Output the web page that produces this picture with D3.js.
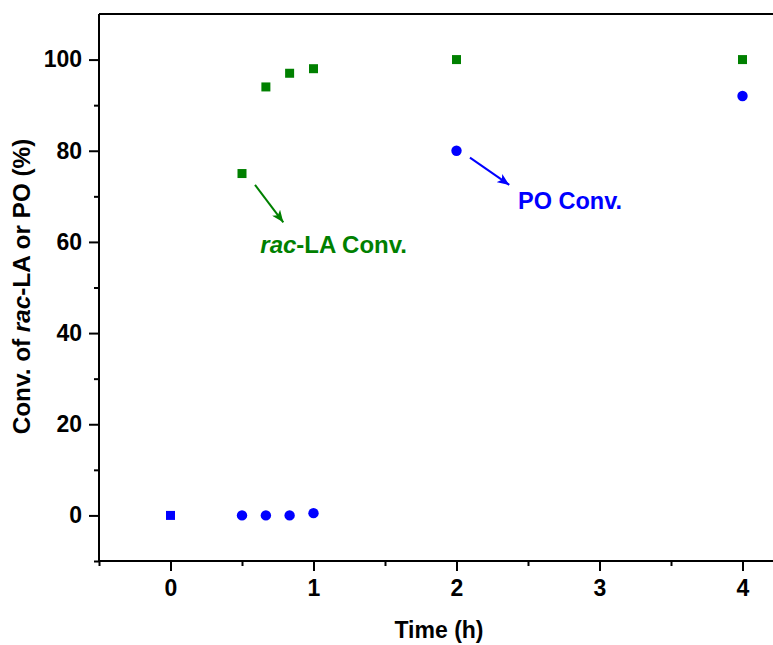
<!DOCTYPE html>
<html>
<head>
<meta charset="utf-8">
<script src="https://cdn.jsdelivr.net/npm/d3@7"></script>
<style>
  html, body { margin: 0; padding: 0; background: #fff; }
  svg { display: block; }
  text { font-family: Arial, "Liberation Sans", sans-serif; font-weight: bold; }
</style>
</head>
<body>
<script>
// Data
const time = [0, 0.5, 0.667, 0.833, 1, 2, 4];
const racLA = [0, 75, 94, 97, 98, 100, 100];
const poConv = [0, 0, 0, 0, 0.5, 80, 92];
const xTicks = [0, 1, 2, 3, 4];
const yTicks = [0, 20, 40, 60, 80, 100];
const xMinorTicks = [-0.5, 0.5, 1.5, 2.5, 3.5];
const yMinorTicks = [-10, 10, 30, 50, 70, 90];
// annotations: [x1, y1, x2, y2] in data units
const greenArrow = [0.591, 72.5, 0.789, 64.3];
const blueArrow = [2.094, 78.5, 2.369, 72.5];

const W = 773, H = 645;
const GREEN = "#008000", BLUE = "#0000ff";

const svg = d3.select("body").append("svg").attr("width", W).attr("height", H);

const x = d3.scaleLinear().domain([-0.5, 4.5]).range([99, 814]);
const y = d3.scaleLinear().domain([-10, 110]).range([561, 14]);

const defs = svg.append("defs");
[["g", GREEN], ["b", BLUE]].forEach(([id, c]) => {
  defs.append("marker").attr("id", "arr-" + id)
    .attr("viewBox", "0 0 12 10").attr("refX", 12).attr("refY", 5)
    .attr("markerWidth", 12).attr("markerHeight", 10)
    .attr("markerUnits", "userSpaceOnUse").attr("orient", "auto")
    .append("path").attr("d", "M0,0 L12,5 L0,10 L3,5 Z").attr("fill", c);
});

// Axes
const xAxis = svg.append("g").attr("transform", `translate(0,${y(-10)})`)
  .call(d3.axisBottom(x).tickValues(xTicks).tickSize(10).tickPadding(9).tickFormat(d3.format("d")));
const xMinor = svg.append("g").attr("transform", `translate(0,${y(-10)})`)
  .call(d3.axisBottom(x).tickValues(xMinorTicks).tickSize(5).tickFormat(""));
const yAxis = svg.append("g").attr("transform", `translate(${x(-0.5)},0)`)
  .call(d3.axisLeft(y).tickValues(yTicks).tickSize(10).tickPadding(7).tickFormat(d3.format("d")));
const yMinor = svg.append("g").attr("transform", `translate(${x(-0.5)},0)`)
  .call(d3.axisLeft(y).tickValues(yMinorTicks).tickSize(5).tickFormat(""));

[xAxis, xMinor, yAxis, yMinor].forEach(g => {
  g.select(".domain").attr("stroke", "#000").attr("stroke-width", 2);
  g.selectAll(".tick line").attr("stroke", "#000").attr("stroke-width", 2);
  g.selectAll(".tick text").attr("fill", "#000").style("font-size", "23px")
    .style("font-family", "Arial, 'Liberation Sans', sans-serif").style("font-weight", "bold");
});
xAxis.select(".domain").attr("d", `M${x(-0.5)},0H${W + 10}`);
xMinor.select(".domain").remove();
yMinor.select(".domain").remove();
yAxis.select(".domain").attr("d", `M0,${y(110)}V${y(-10)}`);

// top border
svg.append("line").attr("x1", x(-0.5)).attr("x2", W + 10)
  .attr("y1", y(110)).attr("y2", y(110)).attr("stroke", "#000").attr("stroke-width", 2);

// Axis titles
svg.append("text").attr("x", 439).attr("y", 638).attr("text-anchor", "middle")
  .style("font-size", "23px").attr("fill", "#000").text("Time (h)");

const yt = svg.append("text").attr("transform", `translate(30,${(y(110) + y(-10)) / 2 - 1}) rotate(-90)`)
  .attr("text-anchor", "middle").style("font-size", "24.3px").attr("fill", "#000");
yt.append("tspan").text("Conv. of ");
yt.append("tspan").style("font-style", "italic").text("rac");
yt.append("tspan").text("-LA or PO (%)");

// Data points
const racData = time.map((t, i) => ({ t, v: racLA[i], i }));
const poData = time.map((t, i) => ({ t, v: poConv[i], i }));
const sq = 9;
svg.append("g").selectAll("rect").data(racData).join("rect")
  .attr("x", d => x(d.t) - sq / 2).attr("y", d => y(d.v) - sq / 2)
  .attr("width", sq).attr("height", sq)
  .attr("fill", d => d.i === 0 ? BLUE : GREEN);
svg.append("g").selectAll("circle").data(poData.filter(d => d.i !== 0)).join("circle")
  .attr("cx", d => x(d.t)).attr("cy", d => y(d.v)).attr("r", 5.2).attr("fill", BLUE);

// Annotations
svg.append("line").attr("x1", x(greenArrow[0])).attr("y1", y(greenArrow[1]))
  .attr("x2", x(greenArrow[2])).attr("y2", y(greenArrow[3]))
  .attr("stroke", GREEN).attr("stroke-width", 2).attr("marker-end", "url(#arr-g)");
svg.append("line").attr("x1", x(blueArrow[0])).attr("y1", y(blueArrow[1]))
  .attr("x2", x(blueArrow[2])).attr("y2", y(blueArrow[3]))
  .attr("stroke", BLUE).attr("stroke-width", 2).attr("marker-end", "url(#arr-b)");

const gl = svg.append("text").attr("x", x(0.628)).attr("y", y(57.6))
  .style("font-size", "24px").attr("fill", GREEN);
gl.append("tspan").style("font-style", "italic").text("rac");
gl.append("tspan").text("-LA Conv.");

svg.append("text").attr("x", x(2.43)).attr("y", y(67.3))
  .style("font-size", "23.5px").attr("fill", BLUE).text("PO Conv.");
</script>
</body>
</html>
